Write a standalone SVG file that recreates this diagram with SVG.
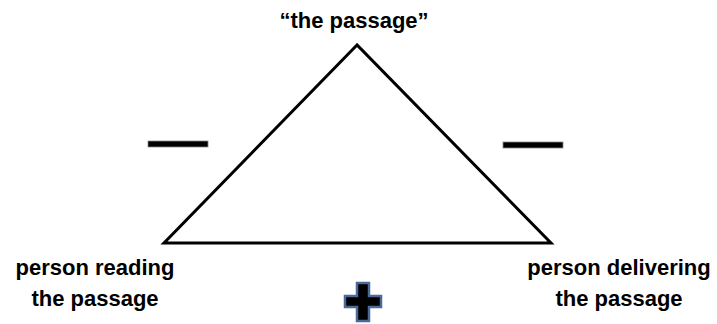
<svg xmlns="http://www.w3.org/2000/svg" width="717" height="324" viewBox="0 0 717 324">
<style>
.lbl{font-family:"Liberation Sans",Arial,sans-serif;font-weight:bold;font-size:22px;fill:#000;text-anchor:middle}
.dash{fill:#000;stroke:#888;stroke-width:0.8}
</style>
<rect width="717" height="324" fill="#fff"/>
<g id="connectors">
<polygon points="357,45 164,243 551,243" fill="none" stroke="#000" stroke-width="3" stroke-linejoin="miter"/>
</g>
<g id="node-top"><text class="lbl" x="354" y="28">“the passage”</text></g>
<g id="node-left"><text class="lbl" x="95" y="275">person reading</text><text class="lbl" x="95" y="306">the passage</text></g>
<g id="node-right"><text class="lbl" x="619" y="275">person delivering</text><text class="lbl" x="619" y="306">the passage</text></g>
<g id="minus-left"><rect class="dash" x="148" y="141" width="60" height="6"/></g>
<g id="minus-right"><rect class="dash" x="503" y="142" width="60" height="6"/></g>
<g id="plus"><polygon points="357,283 369,283 369,296 381,296 381,307 369,307 369,321 357,321 357,307 345,307 345,296 357,296" fill="#000" stroke="#4a6a9a" stroke-width="2.5"/></g>
</svg>
